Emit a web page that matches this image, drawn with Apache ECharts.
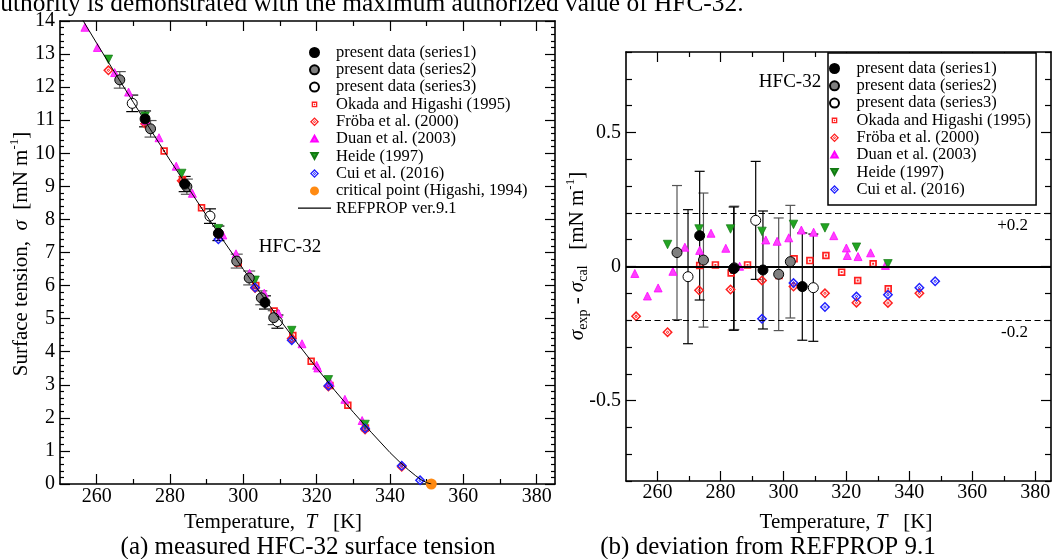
<!DOCTYPE html>
<html>
<head>
<meta charset="utf-8">
<title>HFC-32 surface tension</title>
<script src="https://cdn.jsdelivr.net/npm/echarts@6.0.0/dist/echarts.min.js"></script>
<style>
html,body{margin:0;padding:0;background:#ffffff;}
#chart{width:1059px;height:559px;}
</style>
</head>
<body>
<div id="chart"></div>
<script>
// ===== tick values / labels =====
const tempMajorTicks = [260, 280, 300, 320, 340, 360, 380];
const tempMinorTicks = [270, 290, 310, 330, 350, 370];
const devMajorTicks = [-0.5, 0, 0.5];
const devMinorTicks = [-0.8, -0.7, -0.6, -0.4, -0.3, -0.2, -0.1, 0.1, 0.2, 0.3, 0.4, 0.6, 0.7, 0.8];
const devRefLines = [0.2, -0.2];
const devRefLabels = ['+0.2', '-0.2'];

// ===== series names =====
const nameS1 = 'present data (series1)';
const nameS2 = 'present data (series2)';
const nameS3 = 'present data (series3)';
const nameOkada = 'Okada and Higashi (1995)';
const nameFroba = 'Fröba et al. (2000)';
const nameDuan = 'Duan et al. (2003)';
const nameHeide = 'Heide (1997)';
const nameCui = 'Cui et al. (2016)';
const nameCrit = 'critical point (Higashi, 1994)';
const nameRef = 'REFPROP ver.9.1';

// ===== (a) measured surface tension [mN/m] =====
const s1T = [273.2, 284.0, 293.2, 305.9];
const s1Sigma = [11.04, 9.07, 7.58, 5.49];
const s1SigmaErr = [0.24, 0.23, 0.22, 0.20];
const s2T = [266.3, 274.7, 284.6, 298.2, 301.6, 304.9, 308.3];
const s2Sigma = [12.22, 10.74, 8.99, 6.74, 6.23, 5.63, 5.03];
const s2SigmaErr = [0.25, 0.25, 0.23, 0.21, 0.21, 0.21, 0.21];
const s3T = [269.7, 290.9, 309.3];
const s3Sigma = [11.51, 8.10, 4.91];
const s3SigmaErr = [0.25, 0.22, 0.20];

const okadaT = [273.4, 278.4, 283.4, 288.6, 298.6, 303.4, 308.4, 313.5, 318.5, 323.6, 328.5, 333.3];
const okadaSigma = [10.95, 10.07, 9.20, 8.35, 6.68, 6.00, 5.23, 4.49, 3.71, 2.98, 2.38, 1.69];
const frobaT = [263.2, 273.2, 283.2, 293.2, 303.2, 313.2, 323.2, 333.2, 343.2];
const frobaSigma = [12.51, 10.89, 9.17, 7.54, 5.93, 4.40, 2.95, 1.65, 0.52];
const duanT = [256.8, 260.2, 264.9, 268.7, 273.4, 277.0, 281.7, 286.1, 294.4, 298.0, 301.7, 305.7, 309.6, 316.0, 320.0, 320.3, 323.7, 327.7, 332.4];
const duanSigma = [13.81, 13.20, 12.44, 11.85, 11.00, 10.47, 9.61, 8.79, 7.53, 6.96, 6.37, 5.77, 5.16, 4.24, 3.59, 3.51, 3.07, 2.56, 1.92];
const heideT = [263.2, 273.2, 283.2, 293.2, 303.2, 313.2, 323.2, 333.2];
const heideSigma = [12.84, 11.12, 9.39, 7.72, 6.16, 4.64, 3.15, 1.80];
const cuiT = [293.2, 303.2, 313.2, 323.2, 333.2, 343.2, 348.2];
const cuiSigma = [7.40, 5.94, 4.35, 2.97, 1.68, 0.55, 0.11];
const critT = [351.26];
const critSigma = [0];
const refT = [255, 260, 265, 270, 275, 280, 285, 290, 295, 300, 305, 310, 315, 320, 325, 330, 335, 340, 342.5, 345, 347, 348.5, 350, 351.26];
const refSigma = [14.25, 13.33, 12.43, 11.54, 10.66, 9.79, 8.95, 8.11, 7.29, 6.49, 5.72, 4.96, 4.22, 3.51, 2.82, 2.17, 1.55, 0.95, 0.68, 0.43, 0.25, 0.13, 0.04, 0];

// ===== (b) deviation from REFPROP 9.1 [mN/m] =====
const d1T = [273.4, 284.2, 293.5, 306.0];
const d1Dev = [0.115, -0.008, -0.013, -0.075];
const d1Err = [0.24, 0.23, 0.22, 0.20];
const d2T = [266.2, 274.6, 284.4, 298.5, 302.2];
const d2Dev = [0.052, 0.024, -0.005, -0.029, 0.018];
const d2Err = [0.25, 0.25, 0.23, 0.21, 0.21];
const d3T = [269.7, 291.2, 309.5];
const d3Dev = [-0.038, 0.172, -0.079];
const d3Err = [0.25, 0.22, 0.20];

const okadaDevT = [273.4, 278.4, 283.4, 288.6, 298.6, 303.4, 308.4, 313.5, 318.5, 323.6, 328.5, 333.3];
const okadaDev = [0.004, 0.006, -0.024, 0.006, -0.034, 0.029, 0.022, 0.041, -0.021, -0.052, 0.010, -0.083];
const frobaDevT = [253.2, 263.2, 273.2, 283.2, 293.2, 303.2, 313.2, 323.2, 333.2, 343.2];
const frobaDev = [-0.186, -0.245, -0.089, -0.086, -0.052, -0.075, -0.100, -0.135, -0.136, -0.100];
const duanDevT = [252.8, 256.8, 260.2, 264.9, 268.7, 273.4, 277.0, 281.7, 286.1, 294.4, 298.0, 301.7, 305.7, 309.6, 316.0, 320.0, 320.3, 323.7, 327.7, 332.4];
const duanDev = [-0.026, -0.110, -0.080, -0.018, 0.072, 0.060, 0.124, 0.068, 0.001, 0.099, 0.094, 0.107, 0.136, 0.128, 0.115, 0.069, 0.041, 0.037, 0.051, 0.004];
const heideDevT = [263.2, 273.2, 283.2, 293.2, 303.2, 313.2, 323.2, 333.2];
const heideDev = [0.082, 0.140, 0.140, 0.131, 0.157, 0.144, 0.072, 0.010];
const cuiDevT = [293.2, 303.2, 313.2, 323.2, 333.2, 343.2, 348.2];
const cuiDev = [-0.195, -0.062, -0.151, -0.112, -0.105, -0.079, -0.055];

// ===== styles =====
const FONT = '"Liberation Serif", "Times New Roman", Times, serif';
const SYM_SQ = 'path://M0,0H10V10H0ZM2.3,2.3V7.7H7.7V2.3ZM3.7,3.7H6.3V6.3H3.7Z';
const SYM_SQ_ICON = 'path://M-3,-3M13,13M0,0H10V10H0ZM2.3,2.3V7.7H7.7V2.3ZM3.7,3.7H6.3V6.3H3.7Z';
const SYM_DIA = 'path://M5,0L10,5L5,10L0,5ZM5,2L2,5L5,8L8,5ZM5,3.3L6.7,5L5,6.7L3.3,5ZM5,4.3L4.3,5L5,5.7L5.7,5Z';
const SYM_UP = 'triangle';
const SYM_UP_ICON = 'path://M-2,-2M12,12M5,0L10,9H0Z';
const SYM_DOWN = 'path://M0,0L10,0L5,9Z';
const SYM_DOWN_ICON = 'path://M-2,-2M12,12M0,0L10,0L5,9Z';
const SYM_LINE_ICON = 'path://M0,0L33,0L33,1.2L0,1.2Z';

const styleS1 = {symbol: 'circle', symbolSize: 10, itemStyle: {color: '#000000', borderColor: '#000000', borderWidth: 1, opacity: 1}};
const styleS2 = {symbol: 'circle', symbolSize: 10, itemStyle: {color: '#7f7f7f', borderColor: '#000000', borderWidth: 1, opacity: 1}};
const styleS3 = {symbol: 'circle', symbolSize: 10, itemStyle: {color: '#ffffff', borderColor: '#000000', borderWidth: 1, opacity: 1}};
const styleOkada = {symbol: SYM_SQ, symbolSize: 7.5, itemStyle: {color: '#ff2020', borderWidth: 0, opacity: 1}};
const styleFroba = {symbol: SYM_DIA, symbolSize: 10.5, itemStyle: {color: '#ff2020', borderWidth: 0, opacity: 1}};
const styleDuan = {symbol: SYM_UP, symbolSize: 8, itemStyle: {color: '#ff40ff', borderColor: '#ff00ff', borderWidth: 0.8, opacity: 1}};
const styleHeide = {symbol: SYM_DOWN, symbolSize: 8.5, itemStyle: {color: '#22a422', borderColor: '#137a13', borderWidth: 0.7, opacity: 1}};
const styleCui = {symbol: SYM_DIA, symbolSize: 10.5, itemStyle: {color: '#2020ff', borderWidth: 0, opacity: 1}};
const styleCrit = {symbol: 'circle', symbolSize: 11, itemStyle: {color: '#ff8a12', borderWidth: 0, opacity: 1}};

function pairs(xs, ys) { return xs.map((x, i) => [x, ys[i]]); }
function errTriples(xs, ys, es) { return xs.map((x, i) => [x, ys[i] - es[i], ys[i] + es[i]]); }

function scatter(name, xs, ys, style, xi, yi, extra) {
  return Object.assign({type: 'scatter', name: name, xAxisIndex: xi, yAxisIndex: yi,
    data: pairs(xs, ys), clip: true, silent: true}, style, extra || {});
}
function errBars(id, xs, ys, es, color, cap, xi, yi) {
  return {
    type: 'custom', name: id, xAxisIndex: xi, yAxisIndex: yi, silent: true, clip: true,
    data: errTriples(xs, ys, es), encode: {x: 0, y: [1, 2]},
    renderItem: function (params, api) {
      const x = api.value(0), lo = api.value(1), hi = api.value(2);
      const a = api.coord([x, hi]), b = api.coord([x, lo]);
      const h = cap / 2;
      const st = {stroke: color, lineWidth: 1.2};
      return {type: 'group', children: [
        {type: 'line', shape: {x1: a[0], y1: a[1], x2: b[0], y2: b[1]}, style: st},
        {type: 'line', shape: {x1: a[0] - h, y1: a[1], x2: a[0] + h, y2: a[1]}, style: st},
        {type: 'line', shape: {x1: b[0] - h, y1: b[1], x2: b[0] + h, y2: b[1]}, style: st}
      ]};
    }
  };
}

const lineStyleAxis = {color: '#000000', width: 1.6};
const tickStyle = {color: '#000000', width: 1.2};
const labelBase = {color: '#000000', fontFamily: FONT, fontSize: 20};

function tAxis(grid, pos, ticks, len, showLabel, showLine, margin) {
  return {
    type: 'value', gridIndex: grid, position: pos, min: 250, max: 385,
    axisLine: {show: showLine, onZero: false, lineStyle: lineStyleAxis},
    axisTick: {show: true, inside: true, length: len, customValues: ticks, lineStyle: tickStyle},
    axisLabel: Object.assign({show: showLabel, customValues: ticks, margin: margin}, labelBase),
    splitLine: {show: false}, minorTick: {show: false}
  };
}
function devAxis(pos, ticks, len, showLabel, showLine) {
  return {
    type: 'value', gridIndex: 1, position: pos, min: -0.8, max: 0.8,
    axisLine: {show: showLine, onZero: false, lineStyle: lineStyleAxis},
    axisTick: {show: true, inside: true, length: len, customValues: ticks, lineStyle: tickStyle},
    axisLabel: Object.assign({show: showLabel, customValues: ticks, margin: 5}, labelBase),
    splitLine: {show: false}
  };
}
function sigmaAxis(pos, showLabel) {
  return {
    type: 'value', gridIndex: 0, position: pos, min: 0, max: 14, interval: 1,
    axisLine: {show: true, onZero: false, lineStyle: lineStyleAxis},
    axisTick: {show: true, inside: true, length: 10, lineStyle: tickStyle},
    minorTick: {show: true, splitNumber: 5, length: 4, lineStyle: tickStyle},
    axisLabel: Object.assign({show: showLabel, margin: 5}, labelBase),
    splitLine: {show: false}, minorSplitLine: {show: false}
  };
}

const textRich = {
  a: {fontFamily: FONT, fontSize: 21, lineHeight: 26, fill: '#000'},
  i: {fontFamily: FONT, fontSize: 21, lineHeight: 26, fontStyle: 'italic', fill: '#000'},
  sup: {fontFamily: FONT, fontSize: 13, lineHeight: 13, verticalAlign: 'top', fill: '#000'},
  sub: {fontFamily: FONT, fontSize: 14, lineHeight: 11, verticalAlign: 'bottom', fill: '#000'}
};
const legendText = {fontFamily: FONT, fontSize: 16.5, lineHeight: 16, color: '#000'};

const chart = echarts.init(document.getElementById('chart'), null, {renderer: 'canvas'});

const option = {
  animation: false,
  backgroundColor: '#ffffff',
  textStyle: {fontFamily: FONT},
  grid: [
    {left: 60, top: 21, width: 495, height: 463, outerBoundsMode: 'none'},
    {left: 626, top: 52, width: 425, height: 429, outerBoundsMode: 'none'}
  ],
  xAxis: [
    tAxis(0, 'bottom', tempMajorTicks, 10, true, true, 3),
    tAxis(0, 'bottom', tempMinorTicks, 5, false, false, 3),
    tAxis(0, 'top', tempMajorTicks, 10, false, true, 3),
    tAxis(0, 'top', tempMinorTicks, 5, false, false, 3),
    tAxis(1, 'bottom', tempMajorTicks, 10, true, true, 2),
    tAxis(1, 'bottom', tempMinorTicks, 5, false, false, 2),
    tAxis(1, 'top', tempMajorTicks, 10, false, true, 2),
    tAxis(1, 'top', tempMinorTicks, 5, false, false, 2)
  ],
  yAxis: [
    sigmaAxis('left', true),
    sigmaAxis('right', false),
    devAxis('left', devMajorTicks, 10, true, true),
    devAxis('left', devMinorTicks, 6, false, false),
    devAxis('right', devMajorTicks, 10, false, true),
    devAxis('right', devMinorTicks, 6, false, false)
  ],
  legend: [
    {
      orient: 'vertical', left: 298, top: 44, padding: 0, itemWidth: 33, itemHeight: 9, itemGap: 0.3,
      selectedMode: false, textStyle: legendText,
      data: [
        {name: nameS1}, {name: nameS2}, {name: nameS3},
        {name: nameOkada, icon: SYM_SQ_ICON}, {name: nameFroba},
        {name: nameDuan, icon: SYM_UP_ICON}, {name: nameHeide, icon: SYM_DOWN_ICON},
        {name: nameCui}, {name: nameCrit}, {name: nameRef, icon: SYM_LINE_ICON}
      ]
    },
    {
      orient: 'vertical', left: 828, top: 53, padding: [7, 5, 7, 1], itemWidth: 34, itemHeight: 9, itemGap: 0.3,
      selectedMode: false, borderColor: '#000', borderWidth: 1.5, backgroundColor: '#ffffff',
      textStyle: legendText,
      data: [
        {name: nameS1}, {name: nameS2}, {name: nameS3},
        {name: nameOkada, icon: SYM_SQ_ICON}, {name: nameFroba},
        {name: nameDuan, icon: SYM_UP_ICON}, {name: nameHeide, icon: SYM_DOWN_ICON},
        {name: nameCui}
      ]
    }
  ],
  graphic: [
    {type: 'text', x: -11, y: 17, silent: true, style: {text: 'authority is demonstrated with the maximum authorized value of HFC-32.', font: '25.4px ' + FONT, fill: '#000', align: 'left', verticalAlign: 'bottom'}},
    {type: 'text', x: 273, y: 522, silent: true, style: {text: '{a|Temperature,  }{i|T}{a|   [K]}', rich: textRich, align: 'center', verticalAlign: 'middle'}},
    {type: 'text', x: 846, y: 522, silent: true, style: {text: '{a|Temperature, }{i|T}{a|   [K]}', rich: textRich, align: 'center', verticalAlign: 'middle'}},
    {type: 'text', x: 21, y: 254, rotation: Math.PI / 2, silent: true, style: {text: '{a|Surface tension,  }{i|σ}{a|  [mN m}{sup|-1}{a|]}', rich: textRich, align: 'center', verticalAlign: 'middle'}},
    {type: 'text', x: 577, y: 256, rotation: Math.PI / 2, silent: true, style: {text: '{i|σ}{sub|exp}{a| - }{i|σ}{sub|cal}{a|   [mN m}{sup|-1}{a|]}', rich: textRich, align: 'center', verticalAlign: 'middle'}},
    {type: 'text', x: 308, y: 547, silent: true, style: {text: '(a) measured HFC-32 surface tension', font: '25px ' + FONT, fill: '#000', align: 'center', verticalAlign: 'middle'}},
    {type: 'text', x: 768, y: 547, silent: true, style: {text: '(b) deviation from REFPROP 9.1', font: '25px ' + FONT, fill: '#000', align: 'center', verticalAlign: 'middle'}},
    {type: 'text', x: 290, y: 247, silent: true, style: {text: 'HFC-32', font: '19px ' + FONT, fill: '#000', align: 'center', verticalAlign: 'middle'}},
    {type: 'text', x: 790, y: 82, silent: true, style: {text: 'HFC-32', font: '19px ' + FONT, fill: '#000', align: 'center', verticalAlign: 'middle'}}
  ],
  series: [
    // ---- (a) ----
    {type: 'line', name: nameRef, xAxisIndex: 0, yAxisIndex: 0, data: pairs(refT, refSigma),
      smooth: false, symbol: 'none', showSymbol: false, clip: true, silent: true,
      lineStyle: {color: '#000000', width: 1}, itemStyle: {color: '#000000'}},
    scatter(nameOkada, okadaT, okadaSigma, styleOkada, 0, 0),
    scatter(nameFroba, frobaT, frobaSigma, styleFroba, 0, 0),
    scatter(nameDuan, duanT, duanSigma, styleDuan, 0, 0),
    scatter(nameHeide, heideT, heideSigma, styleHeide, 0, 0),
    scatter(nameCui, cuiT, cuiSigma, styleCui, 0, 0),
    errBars('errA3', s3T, s3Sigma, s3SigmaErr, '#000000', 12, 0, 0),
    errBars('errA2', s2T, s2Sigma, s2SigmaErr, '#555555', 12, 0, 0),
    errBars('errA1', s1T, s1Sigma, s1SigmaErr, '#000000', 12, 0, 0),
    scatter(nameS3, s3T, s3Sigma, styleS3, 0, 0),
    scatter(nameS2, s2T, s2Sigma, styleS2, 0, 0),
    scatter(nameS1, s1T, s1Sigma, styleS1, 0, 0),
    scatter(nameCrit, critT, critSigma, styleCrit, 0, 0, {clip: false}),
    // ---- (b) ----
    scatter(nameOkada, okadaDevT, okadaDev, styleOkada, 4, 2, {
      markLine: {
        silent: true, symbol: 'none', animation: false,
        data: [
          {yAxis: 0, lineStyle: {type: 'solid', color: '#000', width: 1.8}, label: {show: false}},
          {yAxis: devRefLines[0], lineStyle: {type: [6, 3.5], color: '#000', width: 1},
            label: {show: true, position: 'insideEndBottom', formatter: devRefLabels[0], distance: [23, 4], color: '#000', fontFamily: FONT, fontSize: 17}},
          {yAxis: devRefLines[1], lineStyle: {type: [6, 3.5], color: '#000', width: 1},
            label: {show: true, position: 'insideEndBottom', formatter: devRefLabels[1], distance: [23, 4], color: '#000', fontFamily: FONT, fontSize: 17}}
        ]
      }
    }),
    scatter(nameFroba, frobaDevT, frobaDev, styleFroba, 4, 2),
    scatter(nameDuan, duanDevT, duanDev, styleDuan, 4, 2),
    scatter(nameHeide, heideDevT, heideDev, styleHeide, 4, 2),
    scatter(nameCui, cuiDevT, cuiDev, styleCui, 4, 2),
    errBars('errB3', d3T, d3Dev, d3Err, '#000000', 10, 4, 2),
    errBars('errB2', d2T, d2Dev, d2Err, '#555555', 10, 4, 2),
    errBars('errB1', d1T, d1Dev, d1Err, '#000000', 10, 4, 2),
    scatter(nameS3, d3T, d3Dev, styleS3, 4, 2),
    scatter(nameS2, d2T, d2Dev, styleS2, 4, 2),
    scatter(nameS1, d1T, d1Dev, styleS1, 4, 2)
  ]
};

chart.setOption(option);
</script>
</body>
</html>
